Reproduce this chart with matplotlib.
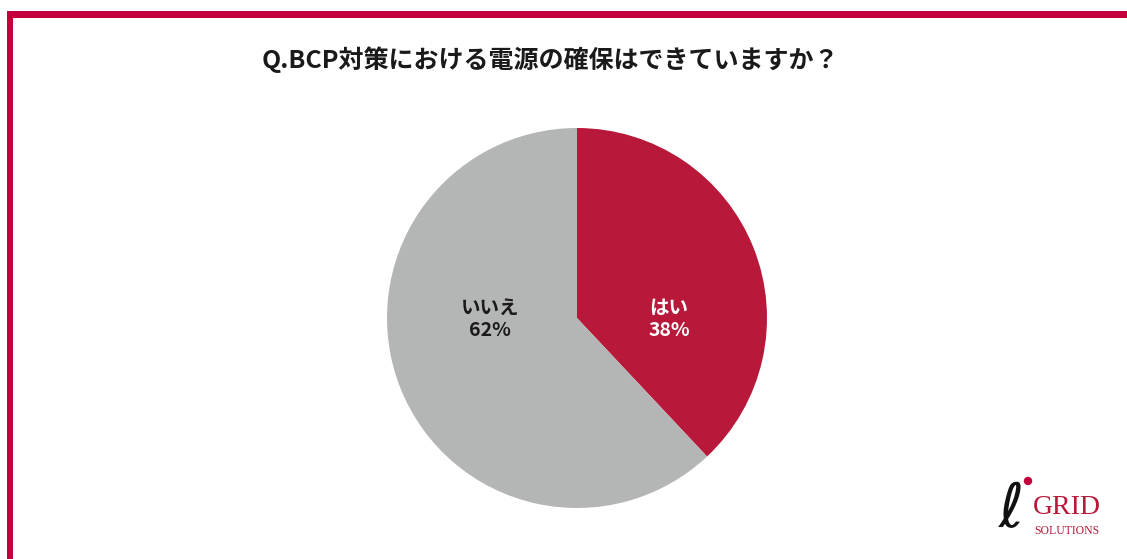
import matplotlib
matplotlib.use("Agg")
import matplotlib.pyplot as plt
from matplotlib.patches import Rectangle, Ellipse

plt.rcParams['font.family'] = ['Noto Sans CJK JP', 'DejaVu Sans']

title = "Q.BCP対策における電源の確保はできていますか？"
labels = ["はい", "いいえ"]
values = [38, 62]
colors = ["#B8193A", "#B4B6B5"]
text_colors = ["white", "#1a1a1a"]

W, H = 1127, 559
fig = plt.figure(figsize=(W / 100, H / 100), dpi=100)
fig.patch.set_facecolor("white")

# border (top and left)
border = "#C4003C"
fig.patches.append(Rectangle((7 / W, 1 - 18 / H), 1 - 7 / W, 7 / H, transform=fig.transFigure,
                             color=border, lw=0, zorder=5))
fig.patches.append(Rectangle((7 / W, 0), 6 / W, 1 - 11 / H, transform=fig.transFigure,
                             color=border, lw=0, zorder=5))

# title
fig.text(550 / W, 1 - 60 / H, title, ha="center", va="center", fontsize=18,
         fontweight="bold", color="#1a1a1a")

# pie
cx, cy, r = 577, 318, 190
ax = fig.add_axes([(cx - r) / W, 1 - (cy + r) / H, 2 * r / W, 2 * r / H])
wedges, _ = ax.pie(values, colors=colors, startangle=90, counterclock=False,
                   wedgeprops=dict(linewidth=0))
ax.set_xlim(-1, 1)
ax.set_ylim(-1, 1)
ax.set_aspect("equal")
ax.axis("off")

label_pos = [(669, 319), (490, 319)]
for lab, v, tc, (px, py) in zip(labels, values, text_colors, label_pos):
    fig.text(px / W, 1 - py / H, f"{lab}\n{v}%", ha="center", va="center",
             fontsize=14, fontweight="bold", color=tc, linespacing=1.2)

# logo
fig.text(1011 / W, 1 - 511 / H, "ℓ", ha="center", va="center", fontsize=44,
         family=["DejaVu Sans"], style="italic", color="#111111")
fig.add_artist(Ellipse((1028 / W, 1 - 481 / H), 7 / W, 7 / H,
                       transform=fig.transFigure, color="#C4003C"))
fig.text(1067 / W, 1 - 508 / H, "GRID", ha="center", va="center", fontsize=20,
         family="Liberation Serif", color="#B8193A")
fig.text(1067 / W, 1 - 531 / H, "SOLUTIONS", ha="center", va="center", fontsize=8.5,
         family="Liberation Serif", color="#B8193A")

fig.savefig("out.png", dpi=100, facecolor="white")
